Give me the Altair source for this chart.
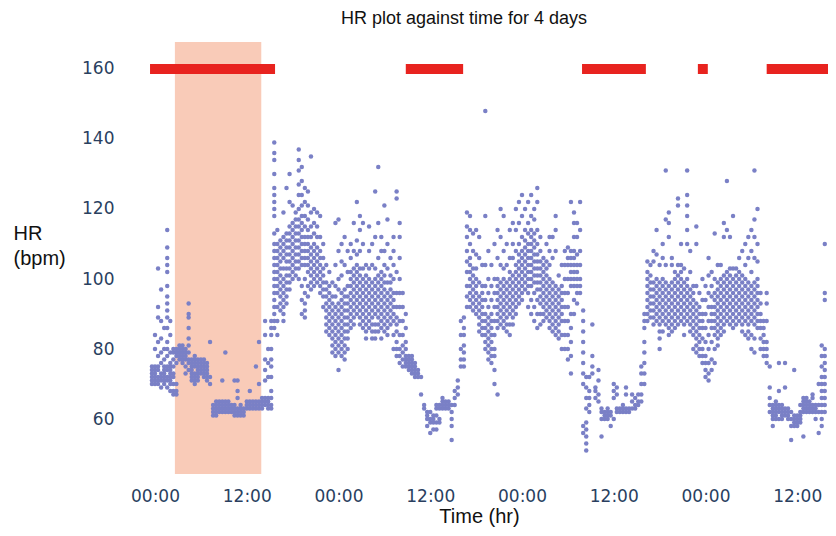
import altair as alt
import pandas as pd

TITLE = "HR plot against time for 4 days"

# Heart-rate readings, grouped by time column: (hours since first midnight, [HR values in bpm])
day1_cols = [
    (-0.4, [70, 71, 72, 73, 74, 75]),
    (0.0, [70, 71, 72, 73, 74, 75, 80, 84]),
    (0.4, [70, 71, 72, 74, 75, 78, 82, 89, 92, 103]),
    (0.8, [69, 71, 72, 73, 76, 79, 83, 88, 97]),
    (1.2, [70, 71, 72, 73, 74, 75, 77, 80, 86]),
    (1.6, [69, 71, 72, 74, 75, 78, 80, 82, 86, 89, 91, 93, 95, 98, 102, 104, 106, 109, 114]),
    (2.0, [68, 70, 71, 72, 73, 74, 75, 76, 79, 84, 88]),
    (2.4, [67, 68, 70, 72, 73, 75, 77, 79, 80]),
    (2.8, [67, 68, 70, 76, 78, 79, 80]),
    (3.2, [77, 78, 79, 80, 81]),
    (3.6, [76, 77, 78, 79, 80, 81]),
    (4.0, [73, 75, 77, 78, 79, 80]),
    (4.4, [74, 76, 77, 79, 81, 83, 86, 89, 90, 93]),
    (4.8, [71, 72, 73, 74, 75, 76, 77]),
    (5.2, [70, 71, 72, 73, 75, 76, 77, 78]),
    (5.6, [71, 72, 73, 74, 75, 76, 77]),
    (6.0, [73, 74, 75, 76, 77]),
    (6.4, [72, 73, 74, 75, 76, 77]),
    (6.8, [71, 72, 73, 74, 75, 76]),
    (7.2, [70, 72, 82]),
    (7.6, [61, 62, 63, 64]),
    (8.0, [61, 62, 63, 64, 65]),
    (8.4, [62, 63, 64, 65]),
    (8.8, [62, 63, 64, 65, 71]),
    (9.2, [62, 63, 64, 65, 79]),
    (9.6, [62, 63, 64, 65]),
    (10.0, [62, 63, 64]),
    (10.4, [61, 62, 63, 64, 71]),
    (10.8, [61, 62, 63, 66, 68, 71]),
    (11.2, [61, 62, 63, 64]),
    (11.6, [61, 62, 63]),
    (12.0, [63, 64, 65]),
    (12.4, [63, 64, 65, 68]),
    (12.8, [63, 64, 65]),
    (13.2, [63, 64, 65, 75]),
    (13.6, [63, 64, 65, 70, 82]),
    (14.0, [63, 64, 65, 66]),
    (14.4, [64, 65, 66, 71, 74, 77, 84, 88]),
    (14.8, [63, 64, 65, 66, 72, 76, 80]),
    (15.2, [63, 64, 66, 68, 72, 75, 77, 80, 84, 86, 88]),
    (15.6, [86, 88, 90, 92, 94, 96, 98, 100, 102, 104, 106, 108, 110, 113, 118, 120, 122, 124, 126, 130, 134, 136, 139]),
    (16.0, [84, 88, 92, 96, 98, 100, 102, 104, 106, 108, 110, 114]),
    (16.4, [91, 93, 95, 97, 99, 101, 103, 105, 107, 109, 111]),
    (16.8, [88, 90, 92, 94, 96, 98, 100, 103, 106, 108, 110, 112, 119]),
    (17.2, [93, 95, 97, 99, 101, 103, 105, 107, 109, 111, 113, 126]),
    (17.6, [97, 99, 101, 103, 105, 107, 109, 111, 113, 115, 122, 130]),
    (18.0, [100, 102, 104, 106, 108, 110, 112, 114, 116, 121]),
    (18.4, [101, 103, 105, 107, 109, 111, 113, 115, 117, 119]),
    (18.8, [100, 103, 105, 107, 109, 111, 113, 115, 117, 120, 124, 127, 131, 134, 137]),
    (19.2, [90, 94, 98, 104, 106, 108, 110, 112, 114, 116, 118, 121, 124, 128, 132]),
    (19.6, [89, 91, 93, 96, 100, 104, 106, 108, 110, 112, 115, 118, 122, 126]),
    (20.0, [95, 98, 102, 104, 106, 108, 110, 112, 114, 117, 121, 125]),
    (20.4, [97, 99, 101, 103, 105, 107, 109, 112, 115, 119, 135]),
    (20.8, [98, 100, 102, 104, 106, 108, 110, 113, 116, 120]),
    (21.2, [99, 101, 103, 105, 107, 109, 112, 115, 119]),
    (21.6, [96, 98, 100, 102, 104, 106, 108, 112, 118]),
    (22.0, [92, 95, 97, 99, 101, 103, 106, 110]),
    (22.4, [85, 87, 89, 91, 93, 95, 97, 99, 104]),
    (22.8, [84, 86, 88, 90, 92, 94, 96, 98, 102]),
    (23.2, [79, 81, 83, 85, 87, 89, 91, 93, 95, 99]),
    (23.6, [78, 80, 82, 84, 86, 88, 90, 92, 95, 98, 104, 116]),
]

day2_cols = [
    (24.0, [74, 79, 81, 83, 85, 87, 89, 91, 93, 97, 100, 108, 117]),
    (24.4, [78, 80, 82, 84, 86, 88, 90, 92, 94, 96, 101, 105, 110]),
    (24.8, [77, 79, 81, 83, 85, 87, 89, 91, 93, 95, 97, 104, 112]),
    (25.2, [80, 83, 85, 87, 89, 91, 93, 95, 98, 102, 108]),
    (25.6, [86, 88, 90, 92, 94, 96, 98, 100, 102, 106, 110]),
    (26.0, [87, 89, 91, 93, 95, 97, 99, 101, 103, 108, 116]),
    (26.4, [90, 92, 94, 96, 98, 100, 102, 104, 107, 111, 122]),
    (26.8, [87, 89, 91, 93, 95, 97, 99, 101, 103, 108, 114, 118]),
    (27.2, [86, 88, 90, 92, 94, 96, 98, 100, 103, 110, 116]),
    (27.6, [83, 85, 87, 89, 91, 93, 95, 97, 99, 101, 104]),
    (28.0, [86, 88, 90, 92, 94, 96, 98, 100, 103, 108, 115]),
    (28.4, [83, 85, 87, 89, 91, 93, 95, 97, 99, 104, 110]),
    (28.8, [83, 85, 87, 90, 92, 94, 96, 98, 100, 103, 112, 125]),
    (29.2, [85, 87, 89, 91, 93, 95, 97, 99, 101, 106, 116, 132]),
    (29.6, [83, 86, 88, 90, 92, 94, 96, 98, 100, 102, 108, 112]),
    (30.0, [85, 87, 89, 91, 93, 95, 97, 99, 101, 104, 108, 121]),
    (30.4, [84, 86, 88, 90, 92, 94, 96, 99, 103, 110, 117]),
    (30.8, [87, 89, 91, 93, 95, 97, 99, 101, 106]),
    (31.2, [80, 84, 88, 90, 92, 94, 96, 100, 104, 108, 112]),
    (31.6, [78, 80, 82, 85, 87, 89, 92, 96, 102, 123, 125]),
    (32.0, [76, 78, 80, 84, 88, 92, 96, 100, 106, 112, 116]),
    (32.4, [75, 77, 79, 81, 84, 88, 92, 96]),
    (32.8, [75, 76, 77, 78, 80, 82, 86, 90]),
    (33.2, [74, 75, 76, 77, 78]),
    (33.6, [73, 74, 75, 76, 77, 78]),
    (34.0, [72, 73, 74, 75, 76]),
    (34.4, [72, 73, 74]),
    (34.8, [67, 72]),
    (35.2, [63, 64]),
    (35.6, [58, 60, 61, 62]),
    (36.0, [56, 59, 60, 62]),
    (36.4, [57, 59, 60, 61]),
    (36.8, [57, 59, 61, 63, 64]),
    (37.2, [59, 60, 63, 64]),
    (37.6, [63, 64, 65, 66]),
    (38.0, [63, 64, 65]),
    (38.4, [63, 64, 65]),
    (38.8, [54, 58, 60, 62, 64]),
    (39.2, [64, 66, 68]),
    (39.6, [67, 69, 71]),
    (40.0, [75, 77, 80, 84, 88]),
    (40.4, [75, 77, 79, 81, 84, 86, 89]),
    (40.8, [92, 95, 98, 102, 105, 108, 112, 115, 119]),
    (41.2, [92, 94, 96, 98, 100, 102, 104, 106, 110, 114, 118]),
    (41.6, [91, 93, 95, 97, 99, 101, 103, 108, 113]),
    (42.0, [90, 92, 94, 96, 98, 100, 103, 107, 114]),
    (42.4, [85, 87, 89, 91, 93, 95, 99, 106, 112]),
    (42.8, [84, 86, 88, 90, 92, 94, 96, 98, 104]),
    (43.2, [80, 82, 84, 86, 88, 90, 94, 98, 104, 118, 148]),
    (43.6, [77, 79, 81, 83, 85, 87, 89, 92, 96, 100, 108]),
    (44.0, [76, 78, 80, 82, 84, 86, 88, 90, 94, 98, 104]),
    (44.4, [70, 74, 78, 80, 84, 88, 92, 96, 100, 110]),
    (44.8, [67, 86, 88, 90, 92, 94, 96, 98, 100, 106, 114]),
    (45.2, [87, 89, 91, 93, 95, 97, 99, 104, 112, 120]),
    (45.6, [86, 88, 90, 92, 94, 96, 98, 100, 103, 108, 118]),
    (46.0, [85, 87, 89, 91, 93, 95, 97, 99, 104, 110]),
    (46.4, [84, 87, 90, 92, 94, 96, 98, 100, 102, 106, 114]),
    (46.8, [87, 89, 91, 93, 95, 97, 99, 101, 106, 110, 116]),
    (47.2, [90, 92, 94, 96, 98, 100, 102, 104, 108, 114, 120]),
    (47.6, [93, 95, 97, 99, 101, 103, 105, 107, 110, 116, 122]),
]

day3_cols = [
    (48.0, [94, 96, 98, 100, 102, 104, 106, 108, 112, 118, 124]),
    (48.4, [97, 99, 101, 103, 105, 107, 109, 111, 114, 120]),
    (48.8, [92, 96, 98, 100, 102, 104, 106, 108, 110, 113, 116, 122]),
    (49.2, [90, 94, 98, 100, 102, 104, 106, 108, 110, 112, 114, 118, 124]),
    (49.6, [88, 92, 96, 99, 101, 103, 105, 107, 109, 111, 113, 117, 120]),
    (50.0, [86, 90, 94, 97, 99, 101, 103, 105, 107, 110, 114, 122, 126]),
    (50.4, [87, 90, 93, 95, 97, 99, 101, 103, 105, 108, 112]),
    (50.8, [88, 90, 92, 94, 96, 98, 100, 102, 104, 106]),
    (51.2, [89, 91, 93, 95, 97, 99, 101, 103, 105, 110]),
    (51.6, [86, 88, 90, 92, 94, 96, 98, 100, 104, 108, 112]),
    (52.0, [85, 87, 89, 91, 93, 95, 97, 99, 106, 112]),
    (52.4, [84, 86, 88, 90, 92, 94, 96, 98, 108, 114, 118]),
    (52.8, [83, 85, 87, 89, 91, 93, 95, 97, 101]),
    (53.2, [80, 84, 88, 90, 92, 94, 96, 98, 104]),
    (53.6, [80, 84, 88, 92, 96, 100, 104, 108]),
    (54.0, [77, 80, 84, 88, 92, 96, 100, 104, 106, 109]),
    (54.4, [73, 78, 82, 86, 90, 98, 100, 102, 104, 106, 108, 122]),
    (54.8, [90, 94, 98, 100, 102, 104, 106, 108, 112, 116, 119]),
    (55.2, [93, 96, 98, 100, 102, 104, 107, 112, 116]),
    (55.6, [96, 98, 100, 104, 108, 114, 122]),
    (56.0, [56, 58, 70, 73, 76, 79, 82, 85, 88, 91]),
    (56.4, [51, 53, 55, 57, 59, 63, 66, 69, 72]),
    (56.8, [62, 64, 66, 68, 72]),
    (57.2, [73, 75, 78, 87]),
    (57.6, [66, 68, 69]),
    (58.0, [65, 67, 71, 74]),
    (58.4, [55, 60, 62, 63]),
    (58.8, [60, 61, 62]),
    (59.2, [60, 61, 62, 63]),
    (59.6, [58, 61, 62]),
    (60.0, [60, 66, 68, 70]),
    (60.4, [62, 63, 67, 69]),
    (60.8, [62, 63]),
    (61.2, [62, 63, 64]),
    (61.6, [62, 63, 67, 69]),
    (62.0, [62, 63]),
    (62.4, [63, 65, 67]),
    (62.8, [63, 64, 66]),
    (63.2, [64, 65, 67]),
    (63.6, [65, 67, 70, 73, 75]),
    (64.0, [70, 73, 76, 79, 82, 86, 88, 90]),
    (64.4, [88, 90, 92, 94, 96, 98, 100, 102, 105]),
    (64.8, [89, 91, 93, 95, 97, 99, 101, 104]),
    (65.2, [87, 89, 91, 93, 95, 97, 99, 105, 108]),
    (65.6, [88, 90, 92, 94, 96, 98, 100, 107, 114]),
    (66.0, [80, 83, 85, 87, 89, 91, 93, 95, 97, 99, 104]),
    (66.4, [85, 88, 90, 92, 94, 96, 98, 100, 106, 110]),
    (66.8, [87, 89, 91, 93, 95, 97, 99, 104, 117, 131]),
    (67.2, [84, 86, 88, 90, 92, 94, 96, 98, 112, 116, 119]),
    (67.6, [85, 87, 89, 91, 93, 95, 97, 99, 104, 106]),
    (68.0, [86, 88, 90, 92, 94, 96, 98, 100, 102]),
    (68.4, [87, 89, 91, 93, 95, 97, 99, 101, 104, 121, 123]),
    (68.8, [88, 90, 92, 94, 96, 98, 100, 102, 104, 110]),
    (69.2, [84, 87, 89, 91, 93, 95, 97, 99, 103]),
    (69.6, [88, 90, 92, 94, 96, 98, 100, 110, 114, 118, 121, 124, 131]),
    (70.0, [85, 87, 89, 91, 93, 95, 97, 102, 108]),
    (70.4, [80, 84, 86, 88, 90, 92, 94, 96, 98]),
    (70.8, [79, 81, 83, 85, 87, 89, 91, 93, 98, 110, 115]),
    (71.2, [78, 80, 82, 84, 86, 88, 90, 92, 96]),
    (71.6, [76, 78, 80, 83, 86, 88, 90, 94, 100]),
]

day4_cols = [
    (72.0, [72, 74, 76, 78, 82, 86, 90, 94, 98]),
    (72.4, [71, 73, 76, 80, 84, 88, 92, 96, 101, 106]),
    (72.8, [74, 77, 82, 86, 88, 90, 92, 95, 98, 102]),
    (73.2, [76, 80, 84, 86, 88, 90, 92, 94, 96, 100, 113]),
    (73.6, [81, 83, 85, 87, 89, 91, 93, 95, 97, 99, 104]),
    (74.0, [84, 86, 88, 90, 92, 94, 96, 98, 100, 104]),
    (74.4, [85, 87, 89, 91, 93, 95, 97, 99, 101, 112, 116]),
    (74.8, [88, 90, 92, 94, 96, 98, 100, 102, 114, 128]),
    (75.2, [87, 89, 91, 93, 95, 97, 99, 101, 103, 112]),
    (75.6, [86, 88, 90, 92, 94, 96, 98, 100, 103, 118]),
    (76.0, [87, 89, 91, 93, 95, 97, 99, 101, 103]),
    (76.4, [88, 90, 92, 94, 96, 98, 100, 102, 106]),
    (76.8, [85, 87, 89, 91, 93, 95, 97, 99, 101, 108]),
    (77.2, [84, 88, 90, 92, 94, 96, 98, 100, 104, 110]),
    (77.6, [83, 85, 87, 89, 91, 93, 95, 97, 99, 106, 112]),
    (78.0, [80, 84, 88, 90, 92, 94, 96, 98, 102, 108, 114]),
    (78.4, [79, 83, 87, 89, 91, 93, 95, 97, 99, 106, 112, 117, 131]),
    (78.8, [86, 88, 90, 92, 94, 96, 98, 100, 105, 110, 120]),
    (79.2, [80, 83, 86, 88, 90, 93, 96]),
    (79.6, [78, 80, 82, 84, 86, 88]),
    (80.0, [76, 78, 80, 82, 88, 93, 96]),
    (80.4, [62, 64, 66, 69, 75]),
    (80.8, [58, 60, 61, 62, 63, 64]),
    (81.2, [60, 61, 62, 63, 64, 65]),
    (81.6, [60, 62, 63, 64, 68, 76]),
    (82.0, [60, 61, 62, 63, 64]),
    (82.4, [61, 62, 63, 69, 76]),
    (82.8, [60, 61, 62, 63]),
    (83.2, [54, 58, 60, 62]),
    (83.6, [58, 59, 60, 61, 74]),
    (84.0, [58, 59, 60, 61]),
    (84.4, [59, 60, 61, 62, 64]),
    (84.8, [55, 62, 63, 64, 65, 66]),
    (85.2, [62, 63, 64, 65, 66]),
    (85.6, [62, 63, 64, 65]),
    (86.0, [62, 63, 64, 66, 67]),
    (86.4, [60, 62, 63, 64]),
    (86.8, [56, 62, 64, 70]),
    (87.2, [58, 60, 62, 64, 66, 68, 70, 72, 75, 78, 81]),
    (87.6, [62, 64, 66, 68, 70, 72, 74, 76, 78, 80, 94, 96, 110]),
]

# Red bars drawn at HR = 160 (start / end in hours)
bar_start = [-0.65, 32.8, 55.85, 71.0, 80.0]
bar_end = [15.7, 40.3, 64.2, 72.3, 88.3]
bar_level = 160

# Shaded band (hours)
shade_start = [2.6]
shade_end = [13.9]

x_ticks = [0, 12, 24, 36, 48, 60, 72, 84]
y_ticks = [60, 80, 100, 120, 140, 160]

X_DOMAIN = [-3.27, 88.02]
Y_DOMAIN = [44.29, 167.71]
W, H = 698, 432

rows = []
for cols in (day1_cols, day2_cols, day3_cols, day4_cols):
    for t, vals in cols:
        for v in vals:
            rows.append({"t": t, "hr": v})
pts_df = pd.DataFrame(rows)
bars_df = pd.DataFrame({"start": bar_start, "end": bar_end, "y": [bar_level] * len(bar_start)})
shade_df = pd.DataFrame({"start": shade_start, "end": shade_end})

LABEL_FONT = "DejaVu Sans"
TITLE_FONT = "Liberation Sans"
LABEL_COLOR = "#2a3f5f"

xscale = alt.Scale(domain=X_DOMAIN, nice=False, zero=False)
yscale = alt.Scale(domain=Y_DOMAIN, nice=False, zero=False)

x_axis = alt.Axis(
    title="Time (hr)", values=x_ticks,
    labelExpr="datum.value % 24 == 0 ? '00:00' : '12:00'",
    grid=False, domain=False, ticks=False, tickSize=0,
    labelFont=LABEL_FONT, labelFontSize=17, labelColor=LABEL_COLOR, labelPadding=14,
    titleFont=TITLE_FONT, titleFontSize=20, titleFontWeight="normal", titleColor="#111111",
    titlePadding=2,
)
y_axis = alt.Axis(
    title=["HR", "(bpm)"], values=y_ticks,
    grid=False, domain=False, ticks=False, tickSize=0,
    labelFont=LABEL_FONT, labelFontSize=17, labelColor=LABEL_COLOR, labelPadding=16,
    titleFont=TITLE_FONT, titleFontSize=20, titleFontWeight="normal", titleColor="#111111",
    titleAngle=0, titleAlign="left", titleBaseline="middle", titleLineHeight=25,
    titleX=-117, titleY=191,
)

shade = alt.Chart(shade_df).mark_rect(color="#F9CBB8").encode(
    x=alt.X("start:Q", scale=xscale, axis=x_axis),
    x2="end:Q",
    y=alt.value(0),
    y2=alt.value(H),
)

bars = alt.Chart(bars_df).mark_rule(color="#E8231F", strokeWidth=10, strokeCap="butt", clip=True).encode(
    x=alt.X("start:Q", scale=xscale, axis=x_axis),
    x2="end:Q",
    y=alt.Y("y:Q", scale=yscale, axis=y_axis),
)

points = alt.Chart(pts_df).mark_circle(size=20, color="#7A80C6", opacity=1, clip=True).encode(
    x=alt.X("t:Q", scale=xscale, axis=x_axis),
    y=alt.Y("hr:Q", scale=yscale, axis=y_axis),
)

chart = alt.layer(shade, bars, points).properties(
    width=W, height=H,
    title=alt.TitleParams(
        TITLE, font=TITLE_FONT, fontSize=18, fontWeight="normal", color="#111111",
        anchor="middle", frame="group", dx=-15, offset=14,
    ),
    autosize=alt.AutoSizeParams(type="none"),
    padding={"left": 122, "top": 34, "right": 0, "bottom": 54},
).configure(background="white").configure_view(stroke=None, strokeWidth=0)

chart.save("out.html", embed_options={"renderer": "svg", "actions": False})
